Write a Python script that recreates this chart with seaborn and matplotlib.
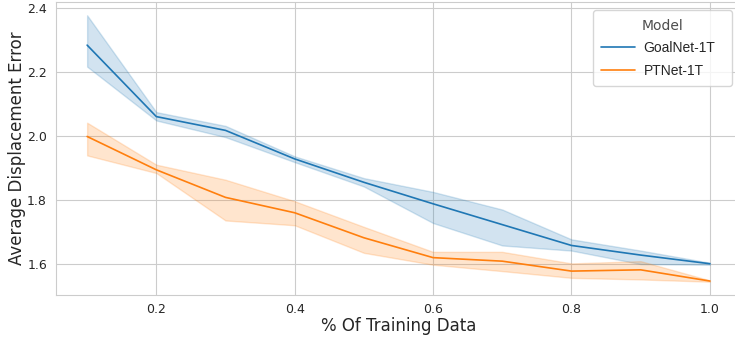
import numpy as np
import pandas as pd
import matplotlib
matplotlib.use("Agg")
import matplotlib.pyplot as plt
import seaborn as sns

# ==========================
# DATA
# ==========================
FRACTIONS = [0.1, 0.2, 0.3, 0.4, 0.5, 0.6, 0.7, 0.8, 0.9, 1.0]
MODELS = ["GoalNet-1T", "PTNet-1T"]

goalnet_mid = [2.283, 2.060, 2.017, 1.928, 1.855, 1.788, 1.723, 1.658, 1.628, 1.601]
goalnet_low = [2.216, 2.048, 1.996, 1.918, 1.842, 1.728, 1.658, 1.642, 1.600, 1.598]
goalnet_high = [2.376, 2.074, 2.031, 1.936, 1.868, 1.825, 1.770, 1.677, 1.642, 1.604]

ptnet_mid = [1.998, 1.894, 1.808, 1.760, 1.682, 1.620, 1.609, 1.578, 1.582, 1.547]
ptnet_low = [1.939, 1.884, 1.736, 1.721, 1.635, 1.598, 1.578, 1.557, 1.552, 1.545]
ptnet_high = [2.041, 1.910, 1.863, 1.796, 1.716, 1.638, 1.638, 1.602, 1.609, 1.549]

# ==========================
# LONG FORM TABLE
# ==========================
rows = []
for model, runs in [
    ("GoalNet-1T", [goalnet_low, goalnet_mid, goalnet_high]),
    ("PTNet-1T", [ptnet_low, ptnet_mid, ptnet_high]),
]:
    for run in runs:
        for frac, ade in zip(FRACTIONS, run):
            rows.append({"frac": frac, "ade": ade, "Model": model})
df = pd.DataFrame(rows)

# ==========================
# PLOT
# ==========================
sns.set_style("whitegrid")
plt.rcParams["font.family"] = ["DejaVu Sans"]

fig = plt.figure(figsize=(7.35, 3.38), dpi=100)
ax = fig.add_axes([56 / 735, 43 / 338, 685 / 735, 293 / 338])

sns.lineplot(
    data=df, x="frac", y="ade", hue="Model", hue_order=MODELS,
    estimator="median", errorbar=("pi", 100),
    palette=["#1f77b4", "#ff7f0e"], linewidth=1.2, ax=ax
)

ax.set_xlabel("% Of Training Data", fontsize=12, color=".15", labelpad=0.5)
ax.set_ylabel("Average Displacement Error", fontsize=12, color=".15", labelpad=1)
ax.tick_params(axis="y", labelsize=9, colors=".15", pad=3)
ax.tick_params(axis="x", labelsize=9, colors=".15", pad=2.5)

leg = ax.legend(title="Model", loc="upper left", mode="expand",
                bbox_to_anchor=(0.784, 0.0, 0.203, 0.972), borderaxespad=0,
                frameon=True, prop={"family": "Liberation Sans", "size": 10},
                title_fontsize=10, labelspacing=0.62,
                handlelength=2.4, handletextpad=0.65, borderpad=0.6)
leg.get_title().set_color(".3")

fig.savefig("out.png", dpi=100)
